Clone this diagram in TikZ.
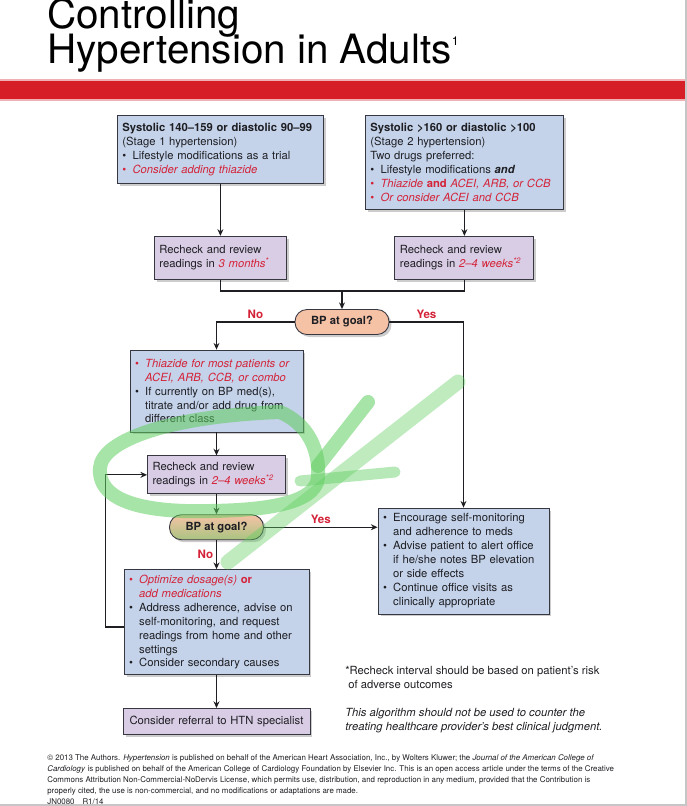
\documentclass[tikz,border=0pt]{standalone}
\usepackage{fontspec}
\setmainfont{TeX Gyre Heros}
\usepackage{xcolor}
\usetikzlibrary{arrows.meta}
\usetikzlibrary{positioning}
\usetikzlibrary{shadows}
\definecolor{azul}{RGB}{196,211,234}
\definecolor{lilas}{RGB}{217,205,229}
\definecolor{pessego}{RGB}{246,194,166}
\definecolor{pessegoverde}{RGB}{168,196,128}
\definecolor{linha}{RGB}{55,55,65}
\definecolor{texto}{RGB}{30,30,35}
\definecolor{vermelho}{RGB}{212,34,56}
\definecolor{barra}{RGB}{214,30,38}
\definecolor{verde}{RGB}{95,205,95}
\newcommand\fontcaixa{\fontsize{6.4}{7.95}\selectfont}
\newcommand\blt[1][texto]{\makebox[0.9em][l]{\textcolor{#1}{\textbullet}}}
\newcommand\rec{\hspace*{0.9em}}
\newcommand\verm[1]{\textcolor{vermelho}{\itshape #1}}
\tikzset{
  bloco/.style={draw=linha, line width=0.5pt, fill=azul, text width=#1, inner xsep=0.1cm, inner ysep=0.06cm, align=left, font=\fontcaixa, text=texto,
    drop shadow={shadow xshift=0.05cm, shadow yshift=-0.05cm, opacity=0.4}},
  bloco/.default=3cm,
  reexame/.style={bloco=#1, fill=lilas},
  pilula/.style={draw=linha, line width=0.5pt, fill=pessego, rounded corners=0.24cm, minimum width=1.88cm, minimum height=0.5cm, font=\fontcaixa\bfseries, text=texto,
    drop shadow={shadow xshift=0.05cm, shadow yshift=-0.05cm, opacity=0.4}},
  seta/.style={-{Stealth[length=3.8pt, width=3.4pt]}, line width=0.7pt, draw=texto},
  rotulo/.style={font=\fontsize{6.6}{7}\selectfont\bfseries, text=vermelho, inner sep=1.5pt},
  marca/.style={draw=verde, line width=0.28cm, draw opacity=0.55, line cap=round, line join=round},
}
\begin{document}
\begin{tikzpicture}[x=0.02cm, y=-0.02cm]
  \useasboundingbox (0,0) rectangle (687,806);
  % title and red band
  \node[anchor=base west, inner sep=0, font=\fontsize{23}{22}\selectfont, text=black] (titulo1) at (47,28) {Controlling};
  \node[anchor=base west, inner sep=0, font=\fontsize{23}{22}\selectfont, text=black] (titulo2) at (47,63) {Hypertension in Adults\raisebox{10pt}{\fontsize{7}{7}\selectfont 1}};
  \fill[barra!35] (0,79) rectangle (687,101);
  \fill[barra] (0,81) rectangle (687,99);
  % starting boxes
  \node[bloco=3.92cm, minimum height=1.36cm, anchor=north west] (s1) at (117,115) {\textbf{Systolic 140--159 or diastolic 90--99}\\(Stage 1 hypertension)\\\blt Lifestyle modifications as a trial\\\blt[vermelho]\verm{Consider adding thiazide}};
  \node[bloco=3.76cm, minimum height=1.88cm, anchor=north west] (s2) at (365,115) {\textbf{Systolic \textgreater160 or diastolic \textgreater100}\\(Stage 2 hypertension)\\Two drugs preferred:\\\blt Lifestyle modifications \textbf{\textit{and}}\\\blt[vermelho]\verm{Thiazide} \textcolor{vermelho}{\textbf{and}} \verm{ACEI, ARB, or CCB}\\\blt[vermelho]\verm{Or consider ACEI and CCB}};
  \node[reexame=2.44cm, minimum height=0.86cm, below=1.04cm of s1] (r1) {Recheck and review\\readings in \verm{3 months\textsuperscript{*}}};
  \node[reexame=2.58cm, minimum height=0.86cm, below=0.52cm of s2] (r2) {Recheck and review\\readings in \verm{2--4 weeks\textsuperscript{*2}}};
  \coordinate (jn) at (342,291);
  \node[pilula] (g1) at (342,322) {BP at goal?};
  % left branch
  \node[bloco=3.26cm, minimum height=1.64cm] (c1) at (216.5,391) {\blt[vermelho]\verm{Thiazide for most patients or}\\\rec\verm{ACEI, ARB, CCB, or combo}\\\blt If currently on BP med(s),\\\rec titrate and/or add drug from\\\rec different class};
  \node[reexame=2.56cm, minimum height=0.76cm, below=0.46cm of c1] (r3) {Recheck and review\\readings in \verm{2--4 weeks\textsuperscript{*2}}};
  \node[pilula, top color=pessego, bottom color=pessegoverde, below=0.4cm of r3] (g2) {BP at goal?};
  \node[bloco=3.5cm, minimum height=2.1cm, below=0.58cm of g2] (c2) {\blt[vermelho]\verm{Optimize dosage(s)} \textcolor{vermelho}{\textbf{or}}\\\rec\verm{add medications}\\\blt Address adherence, advise on\\\rec self-monitoring, and request\\\rec readings from home and other\\\rec settings\\\blt Consider secondary causes};
  \node[reexame=3.54cm, minimum height=0.52cm, align=center, below=0.66cm of c2] (esp) {Consider referral to HTN specialist};
  % right branch
  \node[bloco=3.22cm, minimum height=2.12cm] (mant) at (463.5,561) {\blt Encourage self-monitoring\\\rec and adherence to meds\\\blt Advise patient to alert office\\\rec if he/she notes BP elevation\\\rec or side effects\\\blt Continue office visits as\\\rec clinically appropriate};
  % connectors
  \draw[seta] (s1) -- (r1);
  \draw[seta] (s2) -- (r2);
  \draw[line width=0.7pt, draw=texto] (r1.south) |- (jn) -| (r2.south);
  \draw[seta] (jn) -- (g1.north);
  \draw[seta] (g1.west) -| node[pos=0.25, above, rotulo]{No} (c1.north);
  \draw[seta] (g1.east) -| node[pos=0.25, above, rotulo]{Yes} (mant.north);
  \draw[seta] (c1) -- (r3);
  \draw[seta] (r3) -- (g2);
  \draw[seta] (g2) -- node[left, rotulo]{No} (c2);
  \draw[seta] (g2.east) -- node[above, rotulo, pos=0.5]{Yes} (g2.east -| mant.west);
  \draw[seta] ([yshift=-0.1cm]c2.west) -- ++(-18,0) |- (r3.west);
  \draw[seta] (c2) -- (esp);
  % notes
  \node[anchor=north west, align=left, inner sep=0, font=\fontcaixa, text=texto] (nota) at (345,666) {*Recheck interval should be based on patient's risk\\\ of adverse outcomes};
  \node[anchor=north west, align=left, inner sep=0, font=\fontcaixa\itshape, text=texto] (aviso) at (345,708) {This algorithm should not be used to counter the\\treating healthcare provider's best clinical judgment.};
  \node[anchor=north west, align=left, inner sep=0, font=\fontsize{4.5}{6.25}\selectfont, text=texto] (rodape) at (47,754) {\textcopyright\ 2013 The Authors. \textit{Hypertension} is published on behalf of the American Heart Association, Inc., by Wolters Kluwer; the \textit{Journal of the American College of}\\\textit{Cardiology} is published on behalf of the American College of Cardiology Foundation by Elsevier Inc. This is an open access article under the terms of the Creative\\Commons Attribution Non-Commercial-NoDervis License, which permits use, distribution, and reproduction in any medium, provided that the Contribution is\\properly cited, the use is non-commercial, and no modifications or adaptations are made.\\JN0080\quad R1/14};
  \draw[gray!45, line width=0.6pt] (686,0) -- (686,805) -- (0,805);
  % highlighter marks
  \draw[marca] (280,412) .. controls (308,424) and (320,450) .. (318,478) .. controls (315,505) and (260,512) .. (185,511) .. controls (122,509) and (98,492) .. (100,468) .. controls (102,440) and (170,416) .. (280,412);
  \draw[marca, line width=0.3cm, draw opacity=0.4] (458,382) -- (228,562);
  \draw[marca] (368,402) -- (318,466);
  \draw[marca, line width=0.22cm, draw opacity=0.45] (300,481) -- (395,472);
\end{tikzpicture}
\end{document}
